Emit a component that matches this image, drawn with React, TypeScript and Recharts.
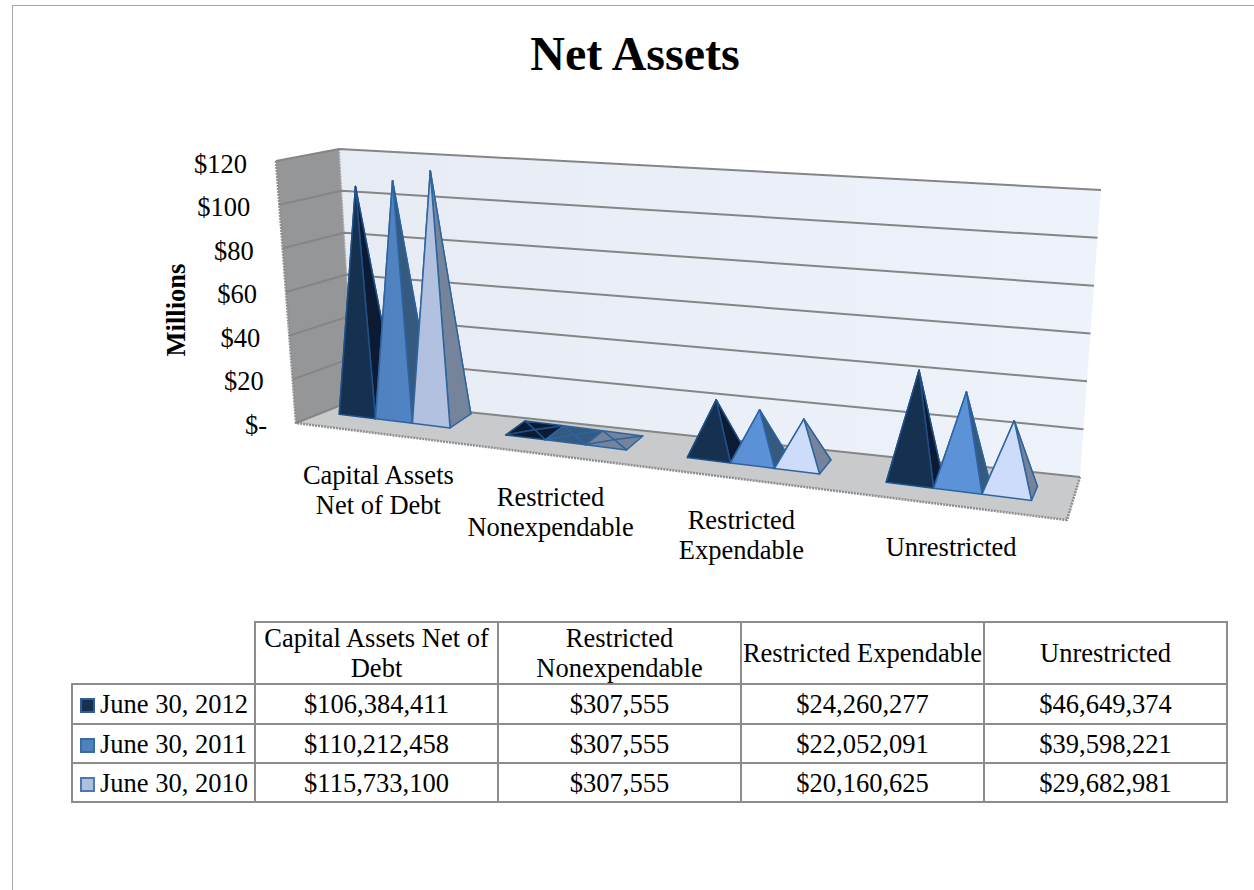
import React from 'react';
import { BarChart, Bar, XAxis, YAxis, CartesianGrid } from 'recharts';

const categories = ['Capital Assets Net of Debt', 'Restricted Nonexpendable', 'Restricted Expendable', 'Unrestricted'];
const tickLines = [['Capital Assets', 'Net of Debt'], ['Restricted', 'Nonexpendable'], ['Restricted', 'Expendable'], ['Unrestricted']];
const seriesNames = ['June 30, 2012', 'June 30, 2011', 'June 30, 2010'];
const values2012 = [106384411, 307555, 24260277, 46649374];
const values2011 = [110212458, 307555, 22052091, 39598221];
const values2010 = [115733100, 307555, 20160625, 29682981];
const yTicks = [0, 20000000, 40000000, 60000000, 80000000, 100000000, 120000000];

const chartData = categories.map((name, i) => ({
  name,
  y2012: values2012[i],
  y2011: values2011[i],
  y2010: values2010[i],
}));

const FONT = '"Liberation Serif", serif';
const TEXT_SIZE = 26.5;

// plot rectangle of the flat chart, everything is then pushed through the 3D projection
const PLOT = { left: 300, top: 150, width: 800, height: 360 };

type Pt = [number, number];

const makeHomography = (p0: Pt, p1: Pt, p2: Pt, p3: Pt) => {
  const dx1 = p1[0] - p2[0];
  const dx2 = p3[0] - p2[0];
  const sx = p0[0] - p1[0] + p2[0] - p3[0];
  const dy1 = p1[1] - p2[1];
  const dy2 = p3[1] - p2[1];
  const sy = p0[1] - p1[1] + p2[1] - p3[1];
  const det = dx1 * dy2 - dx2 * dy1;
  const g = (sx * dy2 - dx2 * sy) / det;
  const h = (dx1 * sy - sx * dy1) / det;
  const a = p1[0] - p0[0] + g * p1[0];
  const b = p3[0] - p0[0] + h * p3[0];
  const d = p1[1] - p0[1] + g * p1[1];
  const e = p3[1] - p0[1] + h * p3[1];
  return (u: number, v: number): Pt => {
    const w = g * u + h * v + 1;
    return [(a * u + b * v + p0[0]) / w, (d * u + e * v + p0[1]) / w];
  };
};

// plane through the middle of the pyramids: bottom-left, bottom-right, top-right, top-left
const planeMid = makeHomography([326, 404], [1071, 498], [1093, 201], [309, 154]);
const project = (x: number, y: number): Pt =>
  planeMid((x - PLOT.left) / PLOT.width, (PLOT.top + PLOT.height - y) / PLOT.height);

const depthX = (x: number) => (21 - (x - 450) * 0.0258) / 2;
const DEPTH_Y = 7;

const frontEdge = (v: number): Pt => [296 - 20 * v, 423 - 262 * v];
const backEdge = (v: number): Pt => [354 - 15 * v, 400 - 251 * v];
const rightEdge = (v: number): Pt => [1080 + 21 * v, 477 - 287 * v];
const FLOOR_FRONT_RIGHT: Pt = [1067, 520];

const pts = (list: Pt[]) => list.map((p) => `${p[0]},${p[1]}`).join(' ');

const faces = [
  { front: '#16304f', side: '#0c1b33', stroke: '#1f5088' },
  { front: 'url(#midFront)', side: '#35597f', stroke: '#2d639f' },
  { front: 'url(#paleFront)', side: '#76849b', stroke: '#2f659f' },
];

const Pyramid = (props: any) => {
  const { x, y, width, height, seriesIndex } = props;
  const base = PLOT.top + PLOT.height;
  const look = faces[seriesIndex];
  const l = project(x, base);
  const r = project(x + width, base);
  const apex = project(x + width / 2, y);
  const FL: Pt = [l[0] - depthX(l[0]), l[1] + DEPTH_Y];
  const BL: Pt = [l[0] + depthX(l[0]), l[1] - DEPTH_Y];
  const FR: Pt = [r[0] - depthX(r[0]), r[1] + DEPTH_Y];
  const BR: Pt = [r[0] + depthX(r[0]), r[1] - DEPTH_Y];
  const edge = { stroke: look.stroke, strokeWidth: 1.5, strokeLinejoin: 'round' as const };
  // nearly flat pyramids catch no light on the front face
  const frontFill = height < 3 ? look.side : look.front;
  return (
    <g>
      <polygon points={pts([BL, BR, apex])} fill={look.side} {...edge} />
      <polygon points={pts([FL, BL, apex])} fill={look.side} {...edge} />
      <polygon points={pts([FR, BR, apex])} fill={look.side} {...edge} />
      <polygon points={pts([FL, FR, apex])} fill={frontFill} {...edge} />
    </g>
  );
};

// sits behind the chart's transparent svg so the grid lines land on top of the walls
const Walls = () => (
  <svg width={1254} height={890} style={{ position: 'absolute', left: 0, top: 0 }}>
    <defs>
      <linearGradient id="backWall" gradientUnits="userSpaceOnUse" x1="340" y1="0" x2="1100" y2="0">
        <stop offset="0" stopColor="#e6ebf4" />
        <stop offset="1" stopColor="#eef3fb" />
      </linearGradient>
      <linearGradient id="midFront" gradientUnits="userSpaceOnUse" x1="380" y1="0" x2="780" y2="0">
        <stop offset="0" stopColor="#5082c0" />
        <stop offset="1" stopColor="#5c92d8" />
      </linearGradient>
      <linearGradient id="paleFront" gradientUnits="userSpaceOnUse" x1="420" y1="0" x2="780" y2="0">
        <stop offset="0" stopColor="#b0c0de" />
        <stop offset="1" stopColor="#cddcfa" />
      </linearGradient>
    </defs>
    <polygon points={pts([backEdge(0), rightEdge(0), rightEdge(1), backEdge(1)])} fill="url(#backWall)" />
    <polygon points={pts([frontEdge(0), backEdge(0), backEdge(1), frontEdge(1)])} fill="#949698" />
    <polygon points={pts([frontEdge(0), backEdge(0), rightEdge(0), FLOOR_FRONT_RIGHT])} fill="#c8cacc" />
    <polyline points={pts([frontEdge(1), frontEdge(0), FLOOR_FRONT_RIGHT, rightEdge(0)])} fill="none" stroke="#8f8f8f" strokeWidth={2.5} strokeDasharray="2 1" />
    <line x1={backEdge(1)[0]} y1={backEdge(1)[1]} x2={backEdge(0)[0]} y2={backEdge(0)[1]} stroke="#a8a8a8" strokeWidth={1.5} strokeDasharray="2 1" />
    <text x={185} y={310} transform="rotate(-90 185 310)" textAnchor="middle" fontFamily={FONT} fontWeight="bold" fontSize={TEXT_SIZE} fill="#000">
      Millions
    </text>
    <text x={635} y={70} textAnchor="middle" fontFamily={FONT} fontWeight="bold" fontSize={48} fill="#000">
      Net Assets
    </text>
  </svg>
);

const GridLine = (props: any) => {
  const v = (PLOT.top + PLOT.height - props.y1) / PLOT.height;
  return <polyline points={pts([frontEdge(v), backEdge(v), rightEdge(v)])} fill="none" stroke="#858585" strokeWidth={2} />;
};

const YTick = (props: any) => {
  const value = props.payload.value;
  const v = value / 120000000;
  const e = frontEdge(v);
  const label = value === 0 ? '$-' : `$${value / 1000000}`;
  return (
    <text x={e[0] - 29} y={e[1] + 10.5 + 1.5 * v} textAnchor="end" fontFamily={FONT} fontSize={TEXT_SIZE} fill="#000">
      {label}
    </text>
  );
};

const tickShiftX = [-27, -24, -18, -11];
const tickShiftY = [70, 71, 70, 72];

const XTick = (props: any) => {
  const index = props.index;
  const p = project(props.x, PLOT.top + PLOT.height);
  const lines = tickLines[index];
  return (
    <text textAnchor="middle" fontFamily={FONT} fontSize={TEXT_SIZE} fill="#000">
      {lines.map((line, i) => (
        <tspan key={line} x={p[0] + tickShiftX[index]} y={p[1] + tickShiftY[index] + i * 30}>
          {line}
        </tspan>
      ))}
    </text>
  );
};

const keyColors = [
  { fill: '#16304f', border: '#2f5d94' },
  { fill: '#4f81bd', border: '#3a6aa5' },
  { fill: '#afbfdc', border: '#4a79b0' },
];
const seriesValues = [values2012, values2011, values2010];
const money = (n: number) => `$${n.toLocaleString('en-US')}`;

const cell: React.CSSProperties = { border: '2px solid #8c8c8c', padding: 0, textAlign: 'center', lineHeight: '30px' };

const DataTable = () => (
  <table
    style={{
      position: 'absolute',
      left: 71,
      top: 621,
      width: 1156,
      tableLayout: 'fixed',
      borderCollapse: 'collapse',
      fontFamily: FONT,
      fontSize: TEXT_SIZE,
      color: '#000',
    }}
  >
    <colgroup>
      <col style={{ width: 183 }} />
      <col style={{ width: 243 }} />
      <col style={{ width: 243 }} />
      <col style={{ width: 243 }} />
      <col style={{ width: 243 }} />
    </colgroup>
    <tbody>
      <tr style={{ height: 62 }}>
        <td style={{ borderTop: 'none', borderLeft: 'none', padding: 0 }} />
        {categories.map((c) => (
          <td key={c} style={cell}>
            {c}
          </td>
        ))}
      </tr>
      {seriesNames.map((name, r) => (
        <tr key={name} style={{ height: r === 0 ? 40 : 39 }}>
          <td style={{ ...cell, textAlign: 'left', whiteSpace: 'nowrap' }}>
            <span
              style={{
                display: 'inline-block',
                width: 11,
                height: 11,
                margin: '0 5px 0 7px',
                background: keyColors[r].fill,
                border: `2px solid ${keyColors[r].border}`,
              }}
            />
            {name}
          </td>
          {seriesValues[r].map((val, c) => (
            <td key={c} style={cell}>
              {money(val)}
            </td>
          ))}
        </tr>
      ))}
    </tbody>
  </table>
);

const App = () => (
  <div style={{ position: 'absolute', left: 0, top: 0, width: 1254, height: 890, overflow: 'hidden', background: '#fff' }}>
    <div
      style={{
        position: 'absolute',
        left: 12,
        top: 5,
        width: 1242,
        height: 885,
        boxSizing: 'border-box',
        borderTop: '1px solid #a6a6a6',
        borderLeft: '1px solid #a6a6a6',
      }}
    />
    <Walls />
    <div style={{ position: 'absolute', left: 0, top: 0 }}>
      <BarChart
        width={1254}
        height={890}
        data={chartData}
        margin={{ left: 240, right: 154, top: 150, bottom: 350 }}
        barCategoryGap="16%"
        barGap={0}
      >
        <CartesianGrid vertical={false} horizontal={(p: any) => <GridLine key={p.key} {...p} />} />
        <XAxis dataKey="name" height={30} axisLine={false} tickLine={false} interval={0} tick={(p: any) => <XTick {...p} />} />
        <YAxis width={60} domain={[0, 120000000]} ticks={yTicks} axisLine={false} tickLine={false} tick={(p: any) => <YTick {...p} />} />
        <Bar dataKey="y2012" name={seriesNames[0]} isAnimationActive={false} shape={(p: any) => <Pyramid {...p} seriesIndex={0} />} />
        <Bar dataKey="y2011" name={seriesNames[1]} isAnimationActive={false} shape={(p: any) => <Pyramid {...p} seriesIndex={1} />} />
        <Bar dataKey="y2010" name={seriesNames[2]} isAnimationActive={false} shape={(p: any) => <Pyramid {...p} seriesIndex={2} />} />
      </BarChart>
    </div>
    <DataTable />
  </div>
);

export default App;
